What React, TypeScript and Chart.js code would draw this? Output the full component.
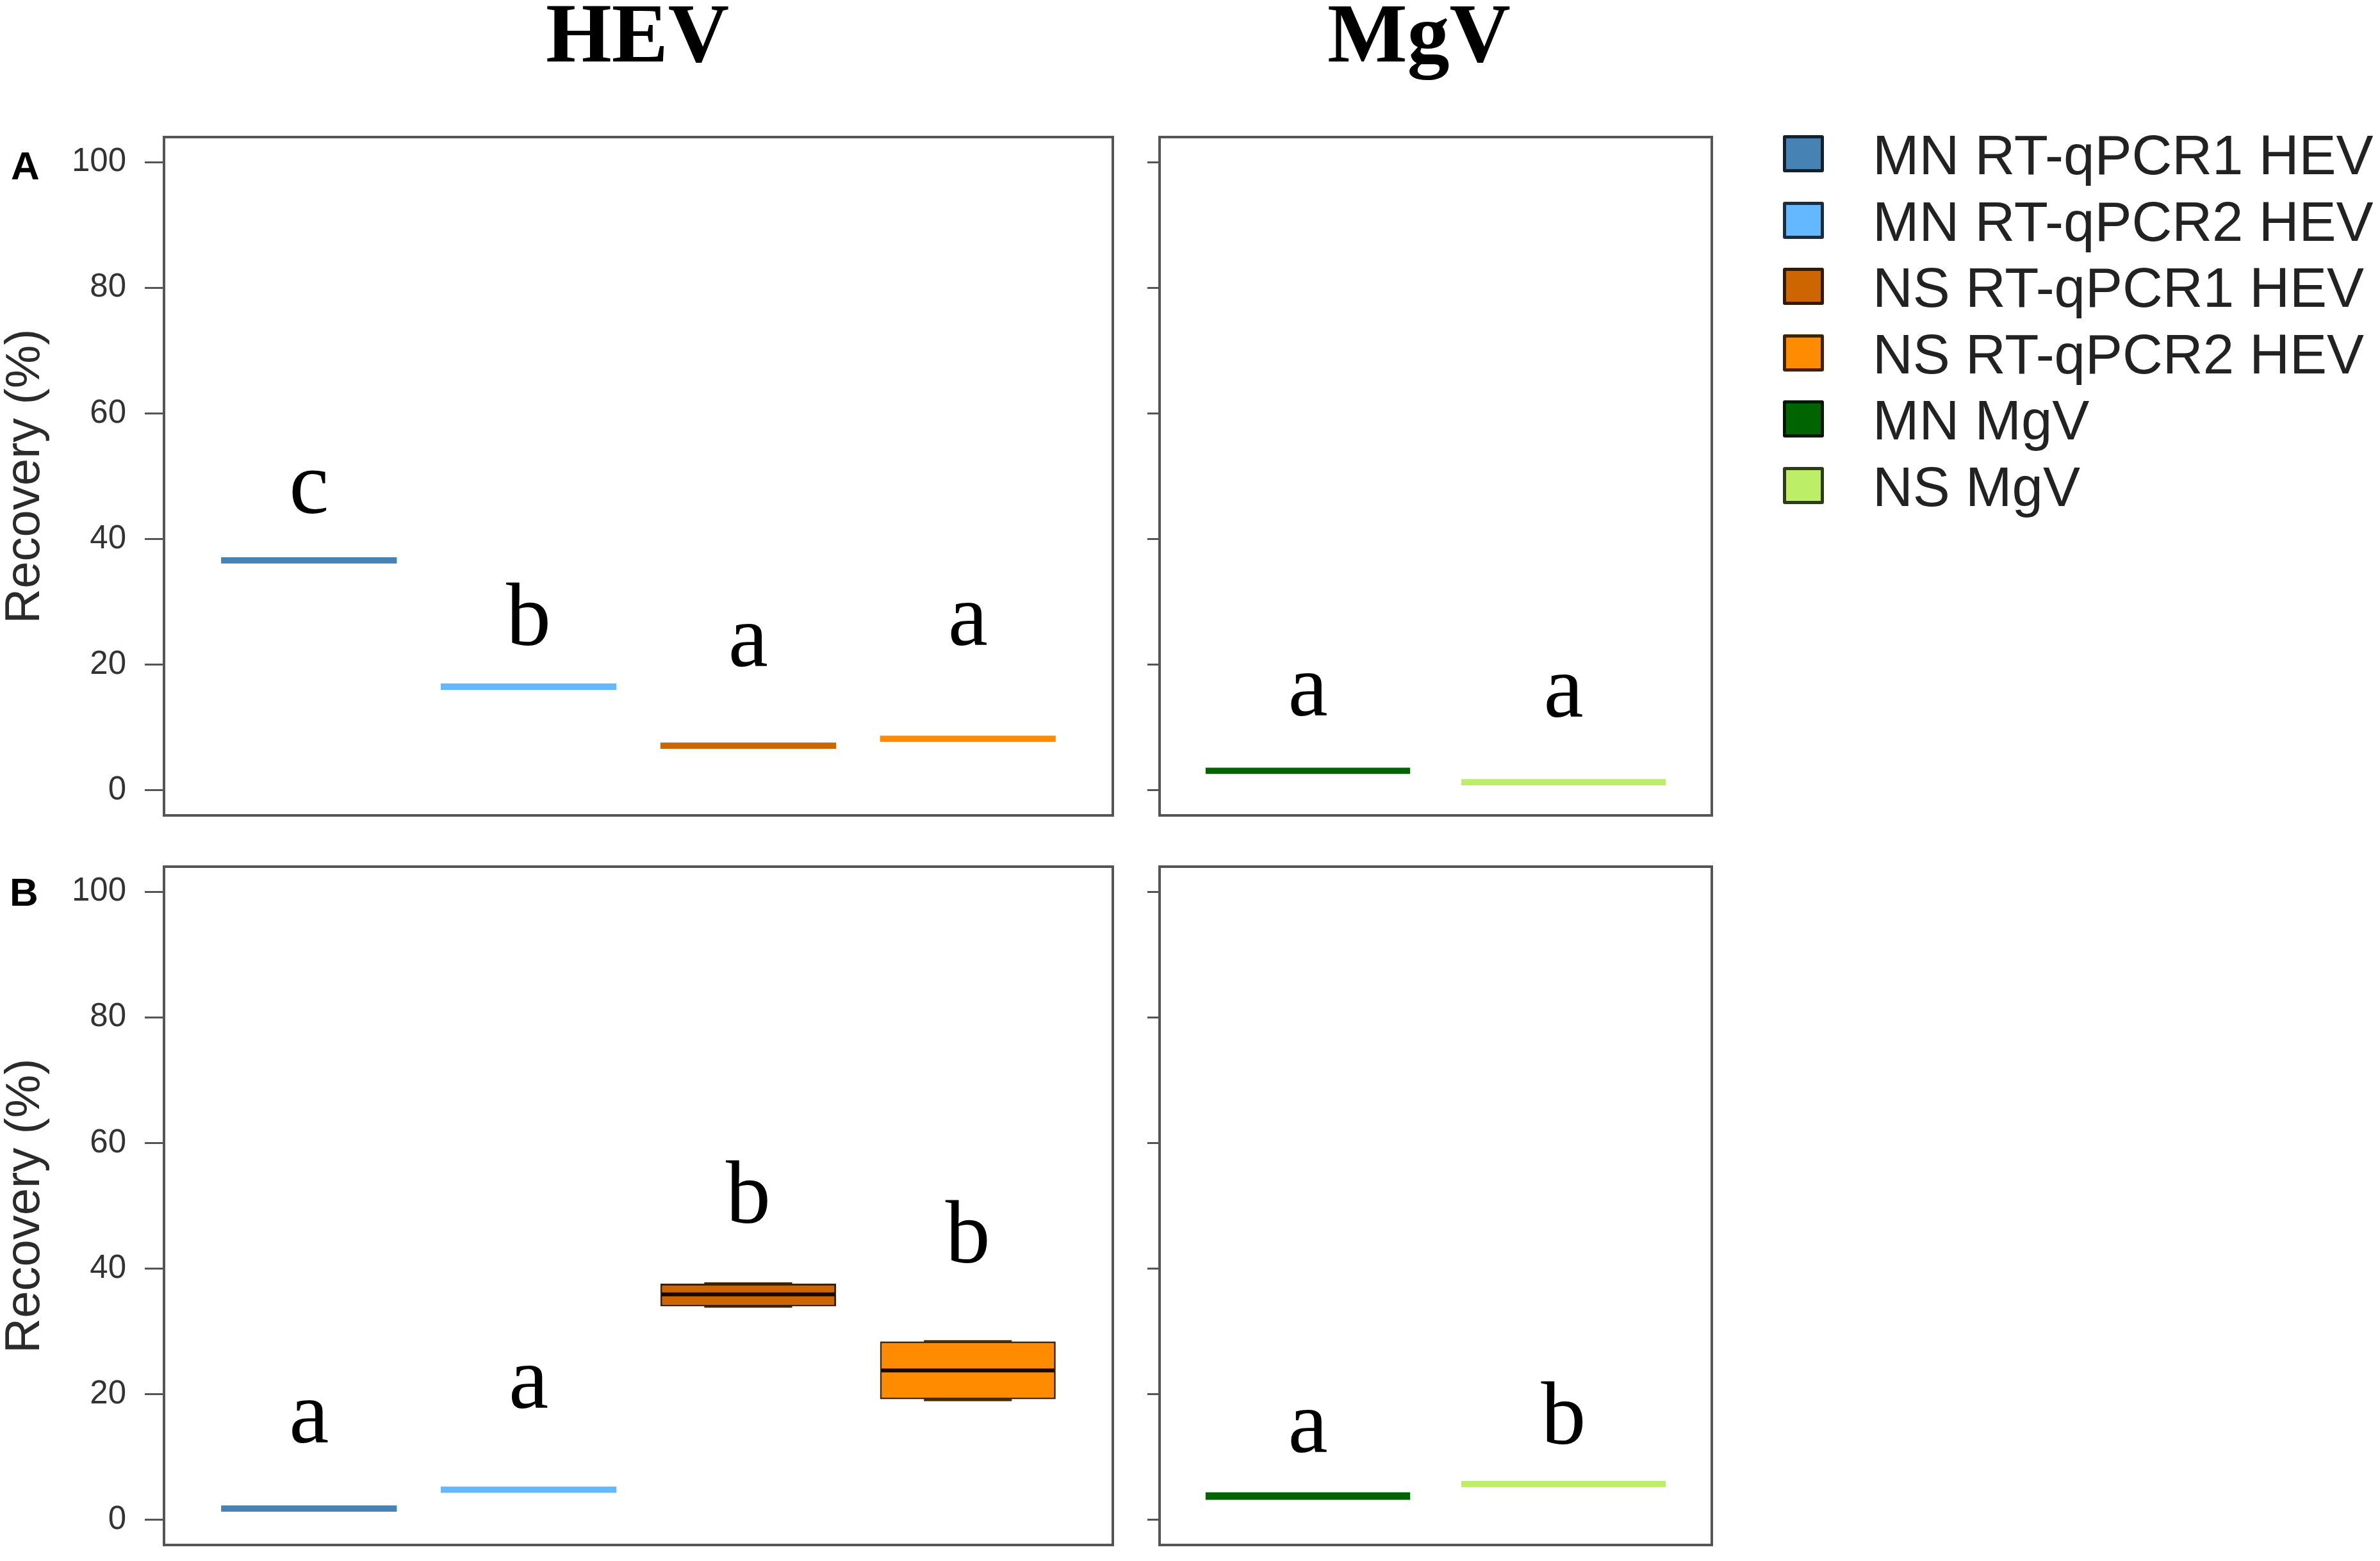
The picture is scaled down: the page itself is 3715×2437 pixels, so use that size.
import React, { useEffect, useRef } from 'react';
import { Chart, registerables } from 'chart.js';

Chart.register(...registerables);

const SANS = "'Liberation Sans', Arial, Helvetica, sans-serif";
const SERIF = "'Liberation Serif', 'Times New Roman', serif";

// ---------- categories, colours, ticks ----------
const hevCategories = ['MN RT-qPCR1 HEV', 'MN RT-qPCR2 HEV', 'NS RT-qPCR1 HEV', 'NS RT-qPCR2 HEV'];
const mgvCategories = ['MN MgV', 'NS MgV'];
const hevColors = ['#4682B4', '#63B8FF', '#CD6600', '#FF8C00'];
const mgvColors = ['#006400', '#BCEE68'];
const yTickValues = [0, 20, 40, 60, 80, 100];
const yAxisLabel = 'Recovery (%)';
const virusTitles = ['HEV', 'MgV'];
const rowLabels = ['A', 'B'];

// ---------- Panel A – HEV ----------
const aHevMin = [36.1, 16.0, 6.6, 7.7];
const aHevQ1 = [36.1, 16.0, 6.6, 7.7];
const aHevMedian = [36.6, 16.5, 7.1, 8.2];
const aHevQ3 = [37.1, 17.0, 7.6, 8.7];
const aHevMax = [37.1, 17.0, 7.6, 8.7];
const aHevLetters = ['c', 'b', 'a', 'a'];
const aHevLetterY = [44.1, 23.1, 19.8, 23.1];

// ---------- Panel A – MgV ----------
const aMgvMin = [2.6, 0.8];
const aMgvQ1 = [2.6, 0.8];
const aMgvMedian = [3.1, 1.3];
const aMgvQ3 = [3.6, 1.8];
const aMgvMax = [3.6, 1.8];
const aMgvLetters = ['a', 'a'];
const aMgvLetterY = [11.9, 11.7];

// ---------- Panel B – HEV ----------
const bHevMin = [1.3, 4.3, 34.0, 19.1];
const bHevQ1 = [1.3, 4.3, 34.0, 19.2];
const bHevMedian = [1.8, 4.8, 35.9, 23.8];
const bHevQ3 = [2.3, 5.3, 37.6, 28.4];
const bHevMax = [2.3, 5.3, 37.6, 28.4];
const bHevLetters = ['a', 'a', 'b', 'b'];
const bHevLetterY = [12.3, 17.8, 47.3, 41.0];

// ---------- Panel B – MgV ----------
const bMgvMin = [3.2, 5.2];
const bMgvQ1 = [3.2, 5.2];
const bMgvMedian = [3.8, 5.7];
const bMgvQ3 = [4.4, 6.2];
const bMgvMax = [4.4, 6.2];
const bMgvLetters = ['a', 'b'];
const bMgvLetterY = [10.8, 12.1];

function shade(hex: string, f: number): string {
  const n = parseInt(hex.slice(1), 16);
  const r = Math.round(((n >> 16) & 255) * f);
  const g = Math.round(((n >> 8) & 255) * f);
  const b = Math.round((n & 255) * f);
  return `rgb(${r},${g},${b})`;
}

type PanelProps = {
  left: number;
  top: number;
  width: number;
  height: number;
  axisWidth: number;
  tickLength: number;
  showLabels: boolean;
  categories: string[];
  colors: string[];
  mins: number[];
  q1s: number[];
  medians: number[];
  q3s: number[];
  maxs: number[];
  letters: string[];
  letterY: number[];
};

function BoxPanel(p: PanelProps) {
  const ref = useRef<HTMLCanvasElement>(null);
  useEffect(() => {
    const n = p.categories.length;
    const positions = p.categories.map((_, i) => i + 1);
    // R boxplot x range (0.5, n + 0.5) with the default 4% extension
    const xMin = 0.5 - n * 0.04;
    const xMax = n + 0.5 + n * 0.04;
    const isThin = (i: number) => p.q3s[i] - p.q1s[i] < 2;

    const extras = {
      id: 'boxExtras',
      afterDatasetsDraw(chart: any) {
        const { ctx, scales } = chart;
        const x = scales.x;
        const y = scales.y;
        const meta = chart.getDatasetMeta(0);
        ctx.save();
        const line = (x1: number, y1: number, x2: number, y2: number) => {
          ctx.beginPath();
          ctx.moveTo(x1, y1);
          ctx.lineTo(x2, y2);
          ctx.stroke();
        };
        positions.forEach((pos, i) => {
          if (isThin(i)) return;
          const bar = meta.data[i];
          const half = bar.width / 2;
          const cx = x.getPixelForValue(pos);
          const dark = shade(p.colors[i], 0.3);
          ctx.strokeStyle = dark;
          ctx.lineWidth = 3;
          ctx.setLineDash([10, 8]);
          line(cx, y.getPixelForValue(p.q3s[i]), cx, y.getPixelForValue(p.maxs[i]));
          line(cx, y.getPixelForValue(p.q1s[i]), cx, y.getPixelForValue(p.mins[i]));
          ctx.setLineDash([]);
          ctx.lineWidth = 4;
          line(cx - half / 2, y.getPixelForValue(p.maxs[i]), cx + half / 2, y.getPixelForValue(p.maxs[i]));
          line(cx - half / 2, y.getPixelForValue(p.mins[i]), cx + half / 2, y.getPixelForValue(p.mins[i]));
          ctx.strokeStyle = '#140800';
          ctx.lineWidth = 6;
          line(cx - half + 2, y.getPixelForValue(p.medians[i]), cx + half - 2, y.getPixelForValue(p.medians[i]));
        });
        ctx.font = `140px ${SERIF}`;
        ctx.fillStyle = '#000';
        ctx.textAlign = 'center';
        ctx.textBaseline = 'alphabetic';
        p.letters.forEach((l, i) => {
          ctx.fillText(l, x.getPixelForValue(positions[i]), y.getPixelForValue(p.letterY[i]));
        });
        ctx.restore();
      },
      afterDraw(chart: any) {
        const { ctx, chartArea } = chart;
        ctx.save();
        ctx.strokeStyle = '#555';
        ctx.lineWidth = 4;
        ctx.strokeRect(chartArea.left, chartArea.top, chartArea.right - chartArea.left, chartArea.bottom - chartArea.top);
        ctx.restore();
      },
    };

    const chart = new Chart(ref.current as HTMLCanvasElement, {
      type: 'bar',
      data: {
        datasets: [
          {
            label: yAxisLabel,
            data: positions.map((pos, i) => ({ x: pos, y: [p.q1s[i], p.q3s[i]] })) as any,
            backgroundColor: p.colors,
            borderColor: p.colors.map((c, i) => (isThin(i) ? c : shade(c, 0.3))),
            borderWidth: p.colors.map((_, i) => (isThin(i) ? 0 : 3)),
            borderSkipped: false,
            categoryPercentage: 1,
            barPercentage: 0.8,
            grouped: false,
          } as any,
        ],
      },
      options: {
        responsive: false,
        maintainAspectRatio: false,
        animation: false,
        events: [],
        layout: { padding: { top: 14, bottom: 17, right: 13, left: 0 } },
        plugins: { legend: { display: false }, tooltip: { enabled: false }, title: { display: false } },
        scales: {
          x: {
            type: 'linear',
            min: xMin,
            max: xMax,
            offset: false,
            display: false,
            afterBuildTicks: (s: any) => {
              s.ticks = positions.map((v) => ({ value: v }));
            },
          },
          y: {
            type: 'linear',
            min: -4,
            max: 104,
            afterBuildTicks: (s: any) => {
              s.ticks = yTickValues.map((v) => ({ value: v }));
            },
            afterFit: (s: any) => {
              s.width = p.axisWidth;
              s.paddingTop = 0;
              s.paddingBottom = 0;
            },
            border: { display: false },
            grid: {
              drawOnChartArea: false,
              drawTicks: true,
              tickLength: p.tickLength,
              color: '#555',
              tickColor: '#555',
              lineWidth: 3,
              tickWidth: 3,
            },
            ticks: {
              display: p.showLabels,
              autoSkip: false,
              padding: 29,
              color: '#333',
              font: { family: SANS, size: 51 },
            },
            title: {
              display: p.showLabels,
              text: yAxisLabel,
              color: '#2b2b2b',
              font: { family: SANS, size: 76, lineHeight: 1 },
              padding: { top: 2, bottom: 0 },
            },
          },
        },
      } as any,
      plugins: [extras as any],
    });
    return () => chart.destroy();
  }, []);

  return (
    <canvas
      ref={ref}
      width={p.width}
      height={p.height}
      style={{ position: 'absolute', left: p.left, top: p.top, width: p.width, height: p.height, display: 'block' }}
    />
  );
}

const legendLabels = [...hevCategories, ...mgvCategories];
const legendColors = [...hevColors, ...mgvColors];

export default function App() {
  const titleStyle = (cx: number): React.CSSProperties => ({
    position: 'absolute',
    left: cx - 400,
    width: 800,
    top: -14,
    textAlign: 'center',
    font: `bold 132px ${SERIF}`,
    lineHeight: '132px',
    color: '#000',
    whiteSpace: 'nowrap',
  });
  const rowStyle = (top: number, left: number): React.CSSProperties => ({
    position: 'absolute',
    left,
    top,
    font: `bold 62px ${SANS}`,
    lineHeight: '62px',
    color: '#000',
  });
  return (
    <div
      style={{
        position: 'absolute',
        left: 0,
        top: 0,
        width: 3715,
        height: 2437,
        background: '#fff',
        overflow: 'hidden',
      }}
    >
      <div style={titleStyle(995)}>{virusTitles[0]}</div>
      <div style={titleStyle(2215)}>{virusTitles[1]}</div>
      <div style={rowStyle(228, 17)}>{rowLabels[0]}</div>
      <div style={rowStyle(1362, 15)}>{rowLabels[1]}</div>

      <BoxPanel
        left={0} top={200} width={1750} height={1090} axisWidth={256} tickLength={30} showLabels={true}
        categories={hevCategories} colors={hevColors}
        mins={aHevMin} q1s={aHevQ1} medians={aHevMedian} q3s={aHevQ3} maxs={aHevMax}
        letters={aHevLetters} letterY={aHevLetterY}
      />
      <BoxPanel
        left={1760} top={200} width={925} height={1090} axisWidth={50} tickLength={19} showLabels={false}
        categories={mgvCategories} colors={mgvColors}
        mins={aMgvMin} q1s={aMgvQ1} medians={aMgvMedian} q3s={aMgvQ3} maxs={aMgvMax}
        letters={aMgvLetters} letterY={aMgvLetterY}
      />
      <BoxPanel
        left={0} top={1339} width={1750} height={1090} axisWidth={256} tickLength={30} showLabels={true}
        categories={hevCategories} colors={hevColors}
        mins={bHevMin} q1s={bHevQ1} medians={bHevMedian} q3s={bHevQ3} maxs={bHevMax}
        letters={bHevLetters} letterY={bHevLetterY}
      />
      <BoxPanel
        left={1760} top={1339} width={925} height={1090} axisWidth={50} tickLength={19} showLabels={false}
        categories={mgvCategories} colors={mgvColors}
        mins={bMgvMin} q1s={bMgvQ1} medians={bMgvMedian} q3s={bMgvQ3} maxs={bMgvMax}
        letters={bMgvLetters} letterY={bMgvLetterY}
      />

      {legendLabels.map((label, i) => {
        const cy = 240 + i * 103.6;
        return (
          <React.Fragment key={label}>
            <div
              style={{
                position: 'absolute',
                left: 2783,
                top: cy - 29,
                width: 64,
                height: 58,
                boxSizing: 'border-box',
                background: legendColors[i],
                border: `5px solid ${shade(legendColors[i], 0.25)}`,
                borderRadius: 3,
              }}
            />
            <div
              style={{
                position: 'absolute',
                left: 2923,
                top: cy - 42,
                font: `87px ${SANS}`,
                lineHeight: '87px',
                color: '#222',
                whiteSpace: 'nowrap',
              }}
            >
              {label}
            </div>
          </React.Fragment>
        );
      })}
    </div>
  );
}
